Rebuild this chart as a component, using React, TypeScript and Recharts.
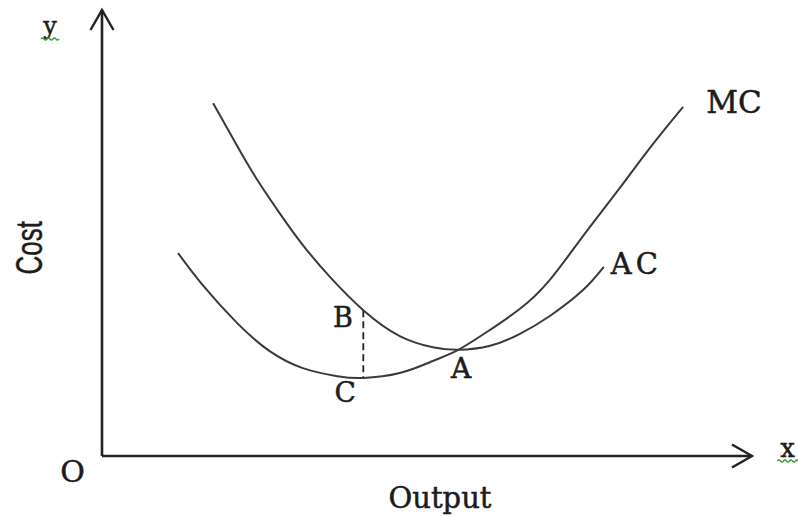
import React from 'react';
import { LineChart, Line, XAxis, YAxis, ReferenceLine, ReferenceDot } from 'recharts';

// Average cost (AC) curve: output and cost values
const acOutput = [17.1, 20.8, 23.8, 27.4, 30.9, 35.1, 40.2, 45.8, 50.9, 54.8, 59.7, 64.3, 68.9, 74.0, 77.2];
const acCost = [79.1, 69.5, 62.1, 54.3, 47.3, 40.1, 32.7, 26.9, 24.4, 23.8, 24.7, 27.4, 31.4, 37.2, 42.4];

// Marginal cost (MC) curve
const mcOutput = [11.7, 15.5, 20.8, 25.8, 30.9, 36.2, 40.2, 45.8, 50.9, 54.8, 59.2, 64.3, 68.9, 74.0, 79.2, 84.3, 89.4];
const mcCost = [45.5, 38.3, 29.8, 23.5, 19.7, 17.9, 17.5, 18.6, 21.3, 23.8, 27.8, 33.0, 39.5, 49.3, 59.2, 69.1, 78.3];

// Marked points
const pointA = { output: 54.8, cost: 23.8 };
const pointB = { output: 40.2, cost: 32.7 };
const pointC = { output: 40.2, cost: 17.5 };

// Axis extents
const outputDomain = [0, 100];
const costDomain = [0, 100];

const acData = acOutput.map((o, i) => ({ output: o, cost: acCost[i] }));
const mcData = mcOutput.map((o, i) => ({ output: o, cost: mcCost[i] }));

const INK = '#1c1c1c';
const CURVE = '#3a3a3a';
const SERIF = '"DejaVu Serif", "Liberation Serif", serif';
const SANS = '"Liberation Sans", Arial, sans-serif';

type Spec = {
  text: string;
  dx: number;
  dy: number;
  size: number;
  family?: string;
  spacing?: number;
  rotate?: boolean;
  stretch?: number;
  squiggle?: { dy: number; half: number };
};

const wavy = (x0: number, x1: number, y: number) => {
  let d = `M ${x0} ${y}`;
  const step = 3;
  let up = true;
  for (let x = x0; x < x1; x += step) {
    d += ` Q ${x + step / 2} ${y + (up ? -2 : 2)} ${x + step} ${y}`;
    up = !up;
  }
  return d;
};

const makeLabel = (s: Spec) => (p: any) => {
  const vb = p.viewBox || { x: 0, y: 0, width: 0, height: 0 };
  const cx = vb.x + (vb.width || 0) / 2 + s.dx;
  const cy = vb.y + (vb.height || 0) / 2 + s.dy;
  if (s.rotate) {
    return (
      <text
        transform={`translate(${cx},${cy}) rotate(-90) scale(1,${s.stretch || 1})`}
        x={0}
        y={0}
        textAnchor="middle"
        fontFamily={s.family || SERIF}
        fontSize={s.size}
        fill={INK}
        stroke={INK}
        strokeWidth={0.3}
      >
        {s.text}
      </text>
    );
  }
  return (
    <g>
      <text
        x={cx}
        y={cy}
        textAnchor="middle"
        fontFamily={s.family || SERIF}
        fontSize={s.size}
        letterSpacing={s.spacing || 0}
        fill={INK}
        stroke={INK}
        strokeWidth={0.5}
      >
        {s.text}
      </text>
      {s.squiggle ? (
        <path
          d={wavy(cx - s.squiggle.half, cx + s.squiggle.half, cy + s.squiggle.dy)}
          fill="none"
          stroke="#3f9a3f"
          strokeWidth={1.4}
        />
      ) : null}
    </g>
  );
};

const axisShape = (p: any) => (
  <line
    x1={p.x1}
    y1={p.y1}
    x2={p.x2}
    y2={p.y2}
    stroke="#222"
    strokeWidth={2.6}
    markerEnd="url(#axisArrow)"
  />
);

export default function App() {
  const lastMc = mcData[mcData.length - 1];
  const lastAc = acData[acData.length - 1];
  return (
    <div style={{ position: 'absolute', left: 0, top: 0, width: 798, height: 518, background: '#fff' }}>
      <svg width={0} height={0} style={{ position: 'absolute' }}>
        <defs>
          <marker
            id="axisArrow"
            viewBox="-26 -16 32 32"
            markerWidth={32}
            markerHeight={32}
            refX={0}
            refY={0}
            orient="auto"
            markerUnits="userSpaceOnUse"
          >
            <path d="M -20 -11.5 L 0 0 L -20 11.5" fill="none" stroke="#222" strokeWidth={2.4} />
          </marker>
        </defs>
      </svg>
      <LineChart width={798} height={518} margin={{ top: 10, right: 46, bottom: 62, left: 102 }}>
        <XAxis type="number" dataKey="output" domain={outputDomain} hide />
        <YAxis type="number" dataKey="cost" domain={costDomain} hide />

        <ReferenceLine
          segment={[{ x: 0, y: 0 }, { x: 100, y: 0 }]}
          ifOverflow="visible"
          shape={axisShape}
        />
        <ReferenceLine
          segment={[{ x: 0, y: 0 }, { x: 0, y: 100 }]}
          ifOverflow="visible"
          shape={axisShape}
        />

        <ReferenceLine
          segment={[{ x: pointB.output, y: pointB.cost }, { x: pointC.output, y: pointC.cost }]}
          ifOverflow="visible"
          stroke="#222"
          strokeWidth={1.8}
          strokeDasharray="7 4"
        />

        <Line
          data={acData}
          dataKey="cost"
          type="natural"
          stroke={CURVE}
          strokeWidth={2}
          dot={false}
          isAnimationActive={false}
        />
        <Line
          data={mcData}
          dataKey="cost"
          type="natural"
          stroke={CURVE}
          strokeWidth={2}
          dot={false}
          isAnimationActive={false}
        />

        <ReferenceDot x={pointB.output} y={pointB.cost} r={0} fill="none" stroke="none" ifOverflow="visible"
          label={makeLabel({ text: 'B', dx: -20.5, dy: 17, size: 27 })} />
        <ReferenceDot x={pointC.output} y={pointC.cost} r={0} fill="none" stroke="none" ifOverflow="visible"
          label={makeLabel({ text: 'C', dx: -18, dy: 24, size: 28 })} />
        <ReferenceDot x={pointA.output} y={pointA.cost} r={0} fill="none" stroke="none" ifOverflow="visible"
          label={makeLabel({ text: 'A', dx: 3, dy: 28, size: 28 })} />
        <ReferenceDot x={lastMc.output} y={lastMc.cost} r={0} fill="none" stroke="none" ifOverflow="visible"
          label={makeLabel({ text: 'MC', dx: 51, dy: 6, size: 31 })} />
        <ReferenceDot x={lastAc.output} y={lastAc.cost} r={0} fill="none" stroke="none" ifOverflow="visible"
          label={makeLabel({ text: 'AC', dx: 32.5, dy: 7, size: 29, spacing: 4 })} />

        <ReferenceDot x={0} y={0} r={0} fill="none" stroke="none" ifOverflow="visible"
          label={makeLabel({ text: 'O', dx: -29.5, dy: 26, size: 30 })} />
        <ReferenceDot x={52} y={0} r={0} fill="none" stroke="none" ifOverflow="visible"
          label={makeLabel({ text: 'Output', dx: 0, dy: 52, size: 29 })} />
        <ReferenceDot x={0} y={46.7} r={0} fill="none" stroke="none" ifOverflow="visible"
          label={makeLabel({ text: 'Cost', dx: -60, dy: 0, size: 26, family: SANS, rotate: true, stretch: 1.4 })} />
        <ReferenceDot x={0} y={100} r={0} fill="none" stroke="none" ifOverflow="visible"
          label={makeLabel({ text: 'y', dx: -52, dy: 24, size: 24, squiggle: { dy: 5, half: 9 } })} />
        <ReferenceDot x={100} y={0} r={0} fill="none" stroke="none" ifOverflow="visible"
          label={makeLabel({ text: 'x', dx: 35.5, dy: 1, size: 26, squiggle: { dy: 4, half: 10 } })} />
      </LineChart>
    </div>
  );
}
